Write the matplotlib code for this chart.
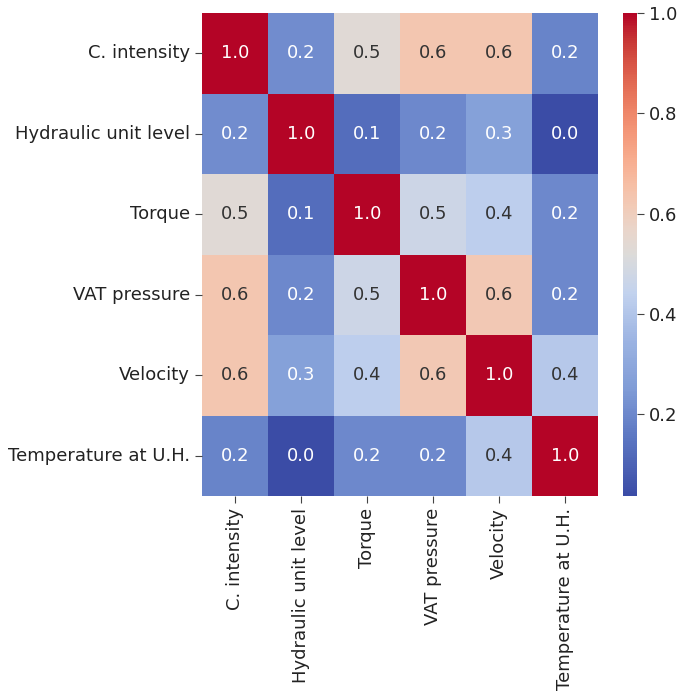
import numpy as np
import matplotlib
matplotlib.use("Agg")
import matplotlib.pyplot as plt
from matplotlib.colors import LinearSegmentedColormap, to_rgb
import seaborn as sns

labels = ["C. intensity", "Hydraulic unit level", "Torque", "VAT pressure",
          "Velocity", "Temperature at U.H."]

row_c_intensity = [1.00, 0.21, 0.53, 0.63, 0.63, 0.19]
row_hydraulic   = [0.21, 1.00, 0.13, 0.20, 0.27, 0.036]
row_torque      = [0.53, 0.13, 1.00, 0.47, 0.43, 0.20]
row_vat         = [0.63, 0.20, 0.47, 1.00, 0.62, 0.20]
row_velocity    = [0.63, 0.27, 0.43, 0.62, 1.00, 0.41]
row_temperature = [0.19, 0.036, 0.20, 0.20, 0.41, 1.00]

corr = np.array([row_c_intensity, row_hydraulic, row_torque, row_vat,
                 row_velocity, row_temperature])

# muted coolwarm (blue half toned down as in the reference rendering)
cw = plt.get_cmap("coolwarm")
blue_anchor = [(0.0, "#3b4ca6"), (0.12, "#5b76c2"), (0.22, "#7f9bd6"),
               (0.32, "#9bb3e2"), (0.42, "#c2d2ee"), (0.5, "#dcdbd9")]
stops = [(p, to_rgb(c)) for p, c in blue_anchor]
for p in np.linspace(0.55, 1.0, 10):
    stops.append((p, cw(p)[:3]))
cmap = LinearSegmentedColormap.from_list("muted_cw", stops)

fig = plt.figure(figsize=(6.89, 6.94), dpi=100)
ax = fig.add_axes([0.293, 0.285, 0.575, 0.696])
cax = fig.add_axes([0.904, 0.285, 0.021, 0.696])

sns.heatmap(corr, annot=True, fmt=".1f", cmap=cmap, ax=ax, cbar_ax=cax,
            xticklabels=labels, yticklabels=labels,
            annot_kws={"fontsize": 13})

flat = corr.flatten()
for t, v in zip(ax.texts, flat):
    t.set_color("white" if (v < 0.35 or v > 0.85) else "#333333")

ax.tick_params(axis="both", labelsize=13, length=5, color="#444444")
ax.set_xticklabels(labels, rotation=90, fontsize=13, color="#222222")
ax.set_yticklabels(labels, rotation=0, fontsize=13, color="#222222")
cax.tick_params(labelsize=13, length=5, color="#444444", labelcolor="#222222")
cax.set_yticks([0.2, 0.4, 0.6, 0.8, 1.0])

fig.savefig("out.png", dpi=100)
